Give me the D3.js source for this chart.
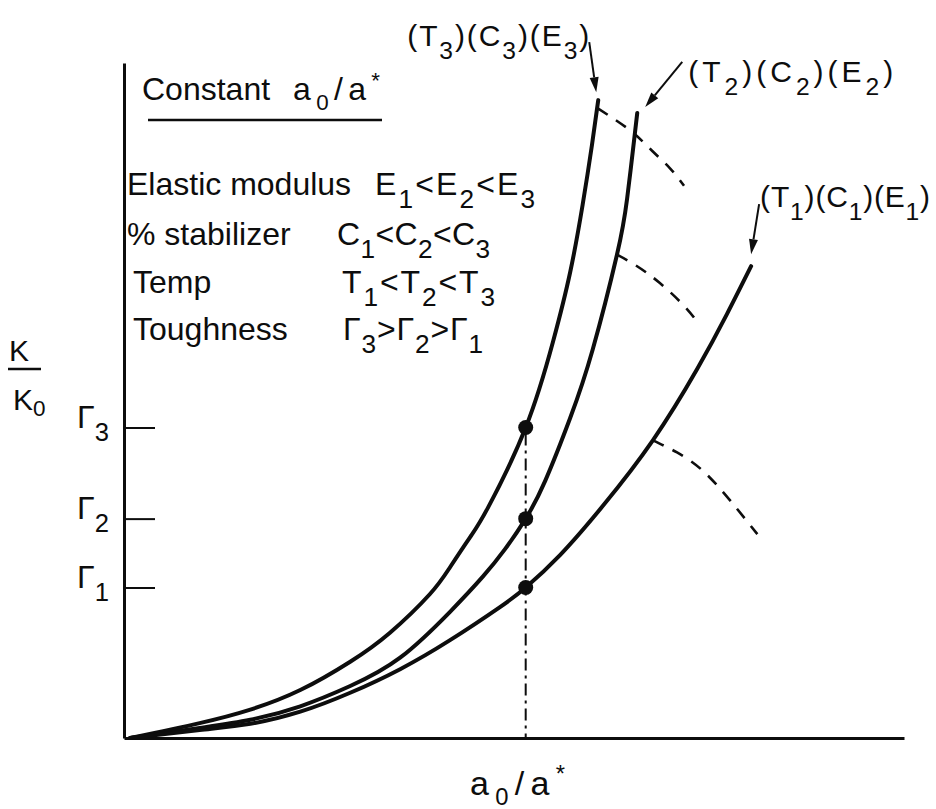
<!DOCTYPE html>
<html>
<head>
<meta charset="utf-8">
<script src="https://cdn.jsdelivr.net/npm/d3@7"></script>
<style>
  html, body { margin: 0; padding: 0; background: #fff; }
  svg text { font-family: "Liberation Sans", Arial, sans-serif; fill: #0d0d0d; }
</style>
</head>
<body>
<svg id="chart" width="936" height="809"></svg>
<script>
// K/K0 against a0/a* for three material conditions (1, 2, 3)
const curveT3 = [[0.08,0],[0.97,0.22],[1.62,0.42],[2.26,0.71],[2.90,1.13],[3.41,1.56],[3.92,2.13],[4.18,2.53],[4.44,2.98],[4.67,3.42],[5.15,4.6],[5.50,5.87],[5.72,6.90],[5.88,7.90],[6.00,8.79],[6.08,9.45]];
const curveT2 = [[0.08,0],[0.97,0.15],[1.62,0.27],[2.26,0.47],[2.90,0.77],[3.54,1.19],[4.18,1.87],[4.60,2.39],[4.88,2.79],[5.15,3.25],[5.40,3.81],[5.72,4.74],[6.01,5.76],[6.32,7.16],[6.45,7.99],[6.55,8.96],[6.58,9.26]];
const curveT1 = [[0.08,0],[0.97,0.12],[1.62,0.21],[2.26,0.39],[2.90,0.67],[3.54,1.02],[4.18,1.45],[4.82,1.94],[5.15,2.23],[5.59,2.71],[6.14,3.44],[6.78,4.41],[7.35,5.47],[7.73,6.28],[8.04,6.99]];

// unstable branches beyond the instability point of each curve
const dropT3 = [[6.07,9.33],[6.49,9.00],[6.77,8.70],[7.00,8.44],[7.18,8.18]];
const dropT2 = [[6.32,7.16],[6.55,7.01],[6.87,6.74],[7.19,6.39],[7.35,6.16]];
const dropT1 = [[6.78,4.41],[7.09,4.23],[7.42,3.96],[7.77,3.52],[8.12,3.02]];

// toughness levels read at constant a0/a*
const aStar = 5.15;
const gammaLevels = [2.23, 3.25, 4.6];
const gammaSubs = ["1", "2", "3"];

// curve labels: (T_i)(C_i)(E_i)
const labelSymbols = ["T", "C", "E"];
const seriesSubs = ["3", "2", "1"];

// property table
const propNames = ["Elastic modulus", "% stabilizer", "Temp", "Toughness"];
const propSymbols = ["E", "C", "T", "Γ"];
const propOrders = [["1","2","3"], ["1","2","3"], ["1","2","3"], ["3","2","1"]];
const propOps = ["<", "<", "<", ">"];

const ink = "#0d0d0d";
const svg = d3.select("#chart");

const x = d3.scaleLinear().domain([0, 10]).range([124, 904]);
const y = d3.scaleLinear().domain([0, 10]).range([738, 63]);

// rich text helper: parts = [[string, "n"|"sub"|"sup"], ...]
function rich(sel, parts, fs, subScale = 0.78, subShift = 0.42) {
  let off = 0;
  parts.forEach(([s, kind]) => {
    const target = kind === "sub" ? fs * subShift : kind === "sup" ? -fs * 0.38 : 0;
    const t = sel.append("tspan").attr("dy", target - off).text(s);
    if (kind !== "n") t.attr("font-size", fs * subScale);
    off = target;
  });
  return sel;
}

// axes
const gx = svg.append("g")
  .attr("transform", `translate(0,${y(0)})`)
  .call(d3.axisBottom(x).tickValues([]).tickSizeOuter(0));
gx.select(".domain").attr("stroke", ink).attr("stroke-width", 3);

const gy = svg.append("g")
  .attr("transform", `translate(${x(0)},0)`)
  .call(d3.axisLeft(y).tickValues(gammaLevels).tickSize(-31).tickSizeOuter(0).tickPadding(13).tickFormat(() => ""));
gy.select(".domain").attr("stroke", ink).attr("stroke-width", 3);
gy.selectAll(".tick line").attr("stroke", ink).attr("stroke-width", 2);
gy.selectAll(".tick text").each(function(d, i) {
  const t = d3.select(this)
    .attr("text-anchor", "start").attr("x", -47).attr("dy", 12)
    .attr("font-size", 32).text(null);
  rich(t, [["Γ", "n"], [gammaSubs[i], "sub"]], 32, 0.8, 0.4);
});

// y-axis title K / K0
svg.append("text").attr("x", 9).attr("y", 361).attr("font-size", 30).text("K");
svg.append("line").attr("x1", 8).attr("x2", 41).attr("y1", 369).attr("y2", 369)
  .attr("stroke", ink).attr("stroke-width", 2.5);
rich(svg.append("text").attr("x", 13).attr("y", 410).attr("font-size", 30),
  [["K", "n"], ["0", "sub"]], 30, 0.75, 0.2);

// x-axis title a0/a*
rich(svg.append("text").attr("x", 470).attr("y", 795).attr("font-size", 34)
  .attr("textLength", 95).attr("lengthAdjust", "spacing"),
  [["a", "n"], ["0", "sub"], ["/a", "n"], ["*", "sup"]], 34, 0.7, 0.3);

// vertical reference at constant a0/a*
svg.append("line")
  .attr("x1", x(aStar)).attr("x2", x(aStar))
  .attr("y1", y(gammaLevels[2]) + 6).attr("y2", y(0))
  .attr("stroke", ink).attr("stroke-width", 2)
  .attr("stroke-dasharray", "12,5,3,5");

// curves
const line = d3.line().x(d => x(d[0])).y(d => y(d[1])).curve(d3.curveNatural);
[curveT3, curveT2, curveT1].forEach(c => {
  svg.append("path").attr("d", line(c)).attr("fill", "none")
    .attr("stroke", ink).attr("stroke-width", 4).attr("stroke-linecap", "round");
});
[dropT3, dropT2, dropT1].forEach(c => {
  svg.append("path").attr("d", line(c)).attr("fill", "none")
    .attr("stroke", ink).attr("stroke-width", 2.6).attr("stroke-dasharray", "12,10");
});

// toughness points
gammaLevels.forEach(g => {
  svg.append("circle").attr("cx", x(aStar)).attr("cy", y(g)).attr("r", 7.5).attr("fill", ink);
});

// curve labels with arrows, placed off each curve's end
const curveEnds = [curveT3, curveT2, curveT1].map(c => c[c.length - 1]);
const labelOffsets = [
  { tx: -191, ty: -54, len: 182, from: [-9, -58], tip: [-2, -8] },
  { tx: 51, ty: -31, len: 205, from: [45, -51], tip: [8, -6] },
  { tx: 9, ty: -59, len: 170, from: [8, -62], tip: [0, -12] }
];
curveEnds.forEach((e, i) => {
  const ex = x(e[0]), ey = y(e[1]);
  const o = labelOffsets[i];
  const parts = [];
  labelSymbols.forEach(s => { parts.push(["(" + s, "n"], [seriesSubs[i], "sub"], [")", "n"]); });
  rich(svg.append("text").attr("x", ex + o.tx).attr("y", ey + o.ty).attr("font-size", 30)
    .attr("textLength", o.len).attr("lengthAdjust", "spacing"), parts, 30, 0.82, 0.42);

  const x0 = ex + o.from[0], y0 = ey + o.from[1];
  const x1 = ex + o.tip[0], y1 = ey + o.tip[1];
  const ang = Math.atan2(y1 - y0, x1 - x0);
  const hl = 15, hw = 4.5;
  const bx = x1 - hl * Math.cos(ang), by = y1 - hl * Math.sin(ang);
  svg.append("line").attr("x1", x0).attr("y1", y0).attr("x2", bx).attr("y2", by)
    .attr("stroke", ink).attr("stroke-width", 2);
  svg.append("polygon")
    .attr("points", [
      [x1, y1],
      [bx + hw * Math.sin(ang), by - hw * Math.cos(ang)],
      [bx - hw * Math.sin(ang), by + hw * Math.cos(ang)]
    ].map(p => p.join(",")).join(" "))
    .attr("fill", ink);
});

// property table
svg.append("text").attr("x", 142).attr("y", 100).attr("font-size", 32).text("Constant");
rich(svg.append("text").attr("x", 293).attr("y", 100).attr("font-size", 32)
  .attr("textLength", 87).attr("lengthAdjust", "spacing"),
  [["a", "n"], ["0", "sub"], ["/a", "n"], ["*", "sup"]], 32, 0.7, 0.3);
svg.append("line").attr("x1", 148).attr("x2", 382).attr("y1", 120).attr("y2", 120)
  .attr("stroke", ink).attr("stroke-width", 2.5);

const rowBase = [195, 245, 293, 340];
const nameX = [127, 127, 133, 133];
const relX = [375, 337, 342, 343];
const relLen = [160, 153, 153, 140];
propNames.forEach((n, i) => {
  svg.append("text").attr("x", nameX[i]).attr("y", rowBase[i]).attr("font-size", 32).text(n);
  const parts = [];
  propOrders[i].forEach((k, j) => {
    parts.push([propSymbols[i], "n"], [k, "sub"]);
    if (j < 2) parts.push([propOps[i], "n"]);
  });
  rich(svg.append("text").attr("x", relX[i]).attr("y", rowBase[i]).attr("font-size", 32)
    .attr("textLength", relLen[i]).attr("lengthAdjust", "spacing"), parts, 32, 0.82, 0.4);
});
</script>
</body>
</html>
